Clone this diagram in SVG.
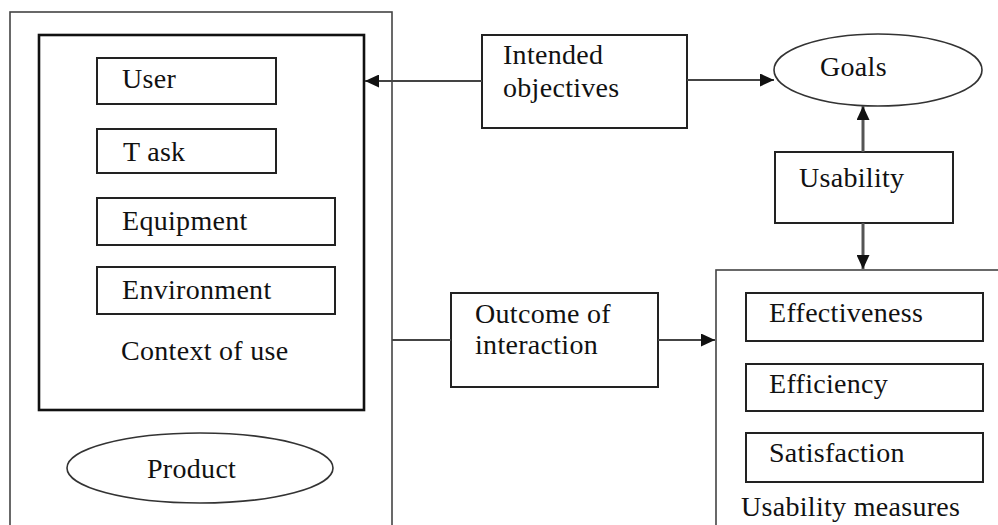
<svg xmlns="http://www.w3.org/2000/svg" width="998" height="525" viewBox="0 0 998 525">
<defs>
<marker id="arr" markerUnits="userSpaceOnUse" markerWidth="15" markerHeight="13" refX="14" refY="6.5" orient="auto">
<path d="M0,0 L14,6.5 L0,13 z" fill="#111"/>
</marker>
<style>
.t{font-family:"Liberation Serif","Times New Roman",serif;font-size:28px;letter-spacing:0.3px;fill:#111}
.box{fill:#fff;stroke:#222;stroke-width:2}
.outer{fill:#fff;stroke:#444;stroke-width:1.6}
.inner{fill:#fff;stroke:#111;stroke-width:2.6}
.ell{fill:#fff;stroke:#333;stroke-width:1.6}
.c{fill:none;stroke:#444;stroke-width:2}
.cv{fill:none;stroke:#555;stroke-width:3}
</style>
</defs>
<rect width="998" height="525" fill="#fff"/>
<g id="product-frame">
<rect class="outer" x="10" y="12" width="382" height="530"/>
</g>
<g id="context-of-use">
<rect class="inner" x="39" y="35" width="325" height="375"/>
<text class="t" x="121" y="360">Context of use</text>
</g>
<g id="user"><rect class="box" x="97" y="58" width="179" height="46"/><text class="t" x="122" y="88">User</text></g>
<g id="task"><rect class="box" x="97" y="129" width="179" height="44"/><text class="t" x="123" y="161">T ask</text></g>
<g id="equipment"><rect class="box" x="97" y="198" width="238" height="47"/><text class="t" x="122" y="230">Equipment</text></g>
<g id="environment"><rect class="box" x="97" y="267" width="238" height="47"/><text class="t" x="122" y="299">Environment</text></g>
<g id="product"><ellipse class="ell" cx="200" cy="468" rx="133" ry="35"/><text class="t" x="147" y="478">Product</text></g>
<g id="intended-objectives"><rect class="box" x="482" y="35" width="205" height="93"/><text class="t" x="503" y="64">Intended</text><text class="t" x="503" y="97">objectives</text></g>
<g id="goals"><ellipse class="ell" cx="878" cy="70" rx="104" ry="36"/><text class="t" x="820" y="76">Goals</text></g>
<g id="usability"><rect class="box" x="775" y="152" width="178" height="71"/><text class="t" x="799" y="187">Usability</text></g>
<g id="outcome"><rect class="box" x="451" y="293" width="207" height="94"/><text class="t" x="475" y="323">Outcome of</text><text class="t" x="475" y="354">interaction</text></g>
<g id="usability-measures">
<rect class="outer" x="716" y="270" width="300" height="280"/>
<text class="t" x="741" y="516">Usability measures</text>
</g>
<g id="effectiveness"><rect class="box" x="746" y="293" width="237" height="48"/><text class="t" x="769" y="322">Effectiveness</text></g>
<g id="efficiency"><rect class="box" x="746" y="364" width="237" height="47"/><text class="t" x="769" y="393">Efficiency</text></g>
<g id="satisfaction"><rect class="box" x="746" y="433" width="237" height="49"/><text class="t" x="769" y="462">Satisfaction</text></g>
<g id="connectors">
<line class="c" x1="482" y1="81" x2="365" y2="81" marker-end="url(#arr)"/>
<line class="c" x1="687" y1="80" x2="774" y2="80" marker-end="url(#arr)"/>
<line class="cv" x1="863" y1="152" x2="863" y2="106" marker-end="url(#arr)"/>
<line class="cv" x1="863" y1="223" x2="863" y2="269" marker-end="url(#arr)"/>
<line class="c" x1="392" y1="340" x2="451" y2="340" stroke="#777" stroke-width="3"/>
<line class="c" x1="658" y1="340" x2="715" y2="340" stroke="#666" stroke-width="3" marker-end="url(#arr)"/>
</g>
</svg>
